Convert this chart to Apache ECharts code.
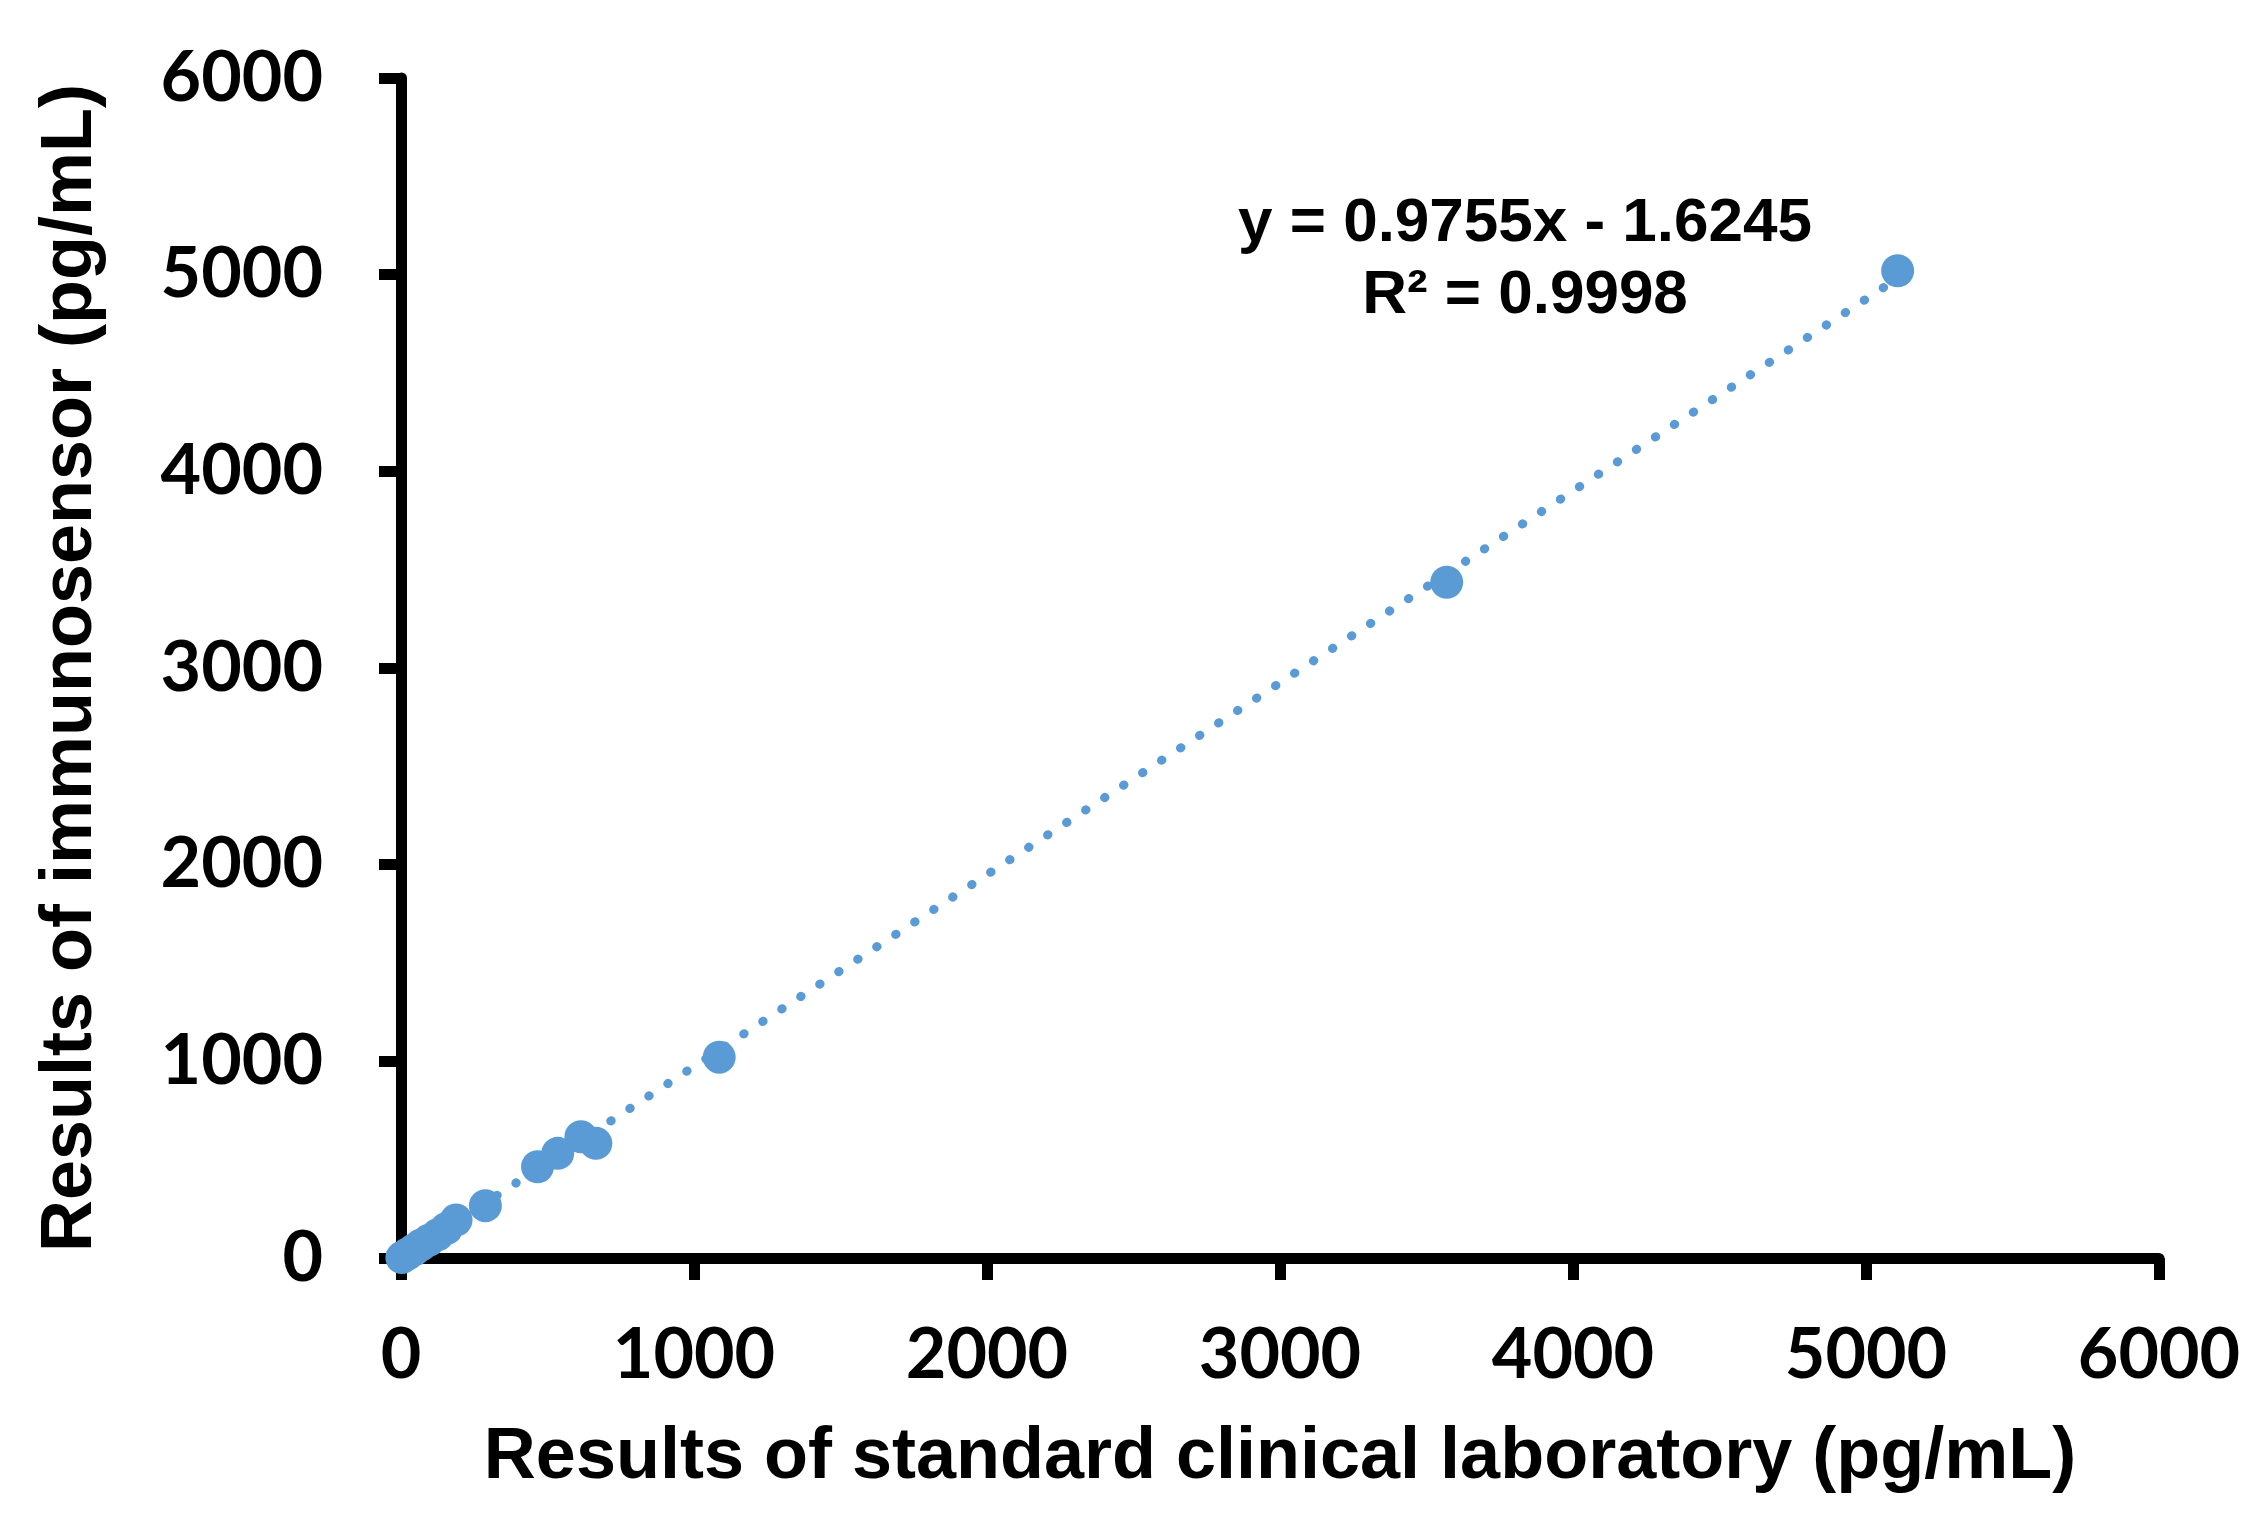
<!DOCTYPE html>
<html>
<head>
<meta charset="utf-8">
<script src="https://cdn.jsdelivr.net/npm/echarts@6/dist/echarts.min.js"></script>
<style>
  html, body { margin: 0; padding: 0; background: #ffffff; }
  #chart { width: 2250px; height: 1532px; }
</style>
</head>
<body>
<div id="chart"></div>
<script>
// ---- data ----
const standardLab = [3, 22, 45, 68, 95, 125, 155, 188, 288, 466, 535, 614, 665, 1086, 3569, 5108];
const immunosensor = [2, 20, 42, 66, 90, 118, 150, 193, 266, 464, 532, 617, 583, 1021, 3436, 5020];
const xTicks = [0, 1000, 2000, 3000, 4000, 5000, 6000];
const yTicks = [0, 1000, 2000, 3000, 4000, 5000, 6000];
const trendSlope = 0.9755;
const trendIntercept = -1.6245;
const equationLines = ['y = 0.9755x - 1.6245', 'R\u00B2 = 0.9998'];
const xTitle = 'Results of standard clinical laboratory (pg/mL)';
const yTitle = 'Results of immunosensor (pg/mL)';

// ---- build ----
const points = standardLab.map((x, i) => [x, immunosensor[i]]);
const xMin = Math.min(...standardLab);
const xMax = Math.max(...standardLab);
const trend = [
  [xMin, trendSlope * xMin + trendIntercept],
  [xMax, trendSlope * xMax + trendIntercept]
];

const blue = '#5B9BD5';
const plain = v => String(v);
const tickFont = { fontFamily: 'Lato', fontWeight: 'bold', fontSize: 70, color: '#000', formatter: plain };
const axisLine = { show: true, lineStyle: { color: '#000', width: 11 } };
const axisTick = { show: true, length: 22, lineStyle: { color: '#000', width: 11 } };

const chart = echarts.init(document.getElementById('chart'), null, { renderer: 'canvas' });
chart.setOption({
  animation: false,
  backgroundColor: '#ffffff',
  grid: { left: 401, right: 91, top: 78, bottom: 274, containLabel: false },
  xAxis: {
    type: 'value',
    min: xTicks[0], max: xTicks[xTicks.length - 1], interval: 1000,
    axisLine: axisLine,
    axisTick: axisTick,
    splitLine: { show: false },
    axisLabel: Object.assign({ margin: 62 }, tickFont),
    name: xTitle,
    nameLocation: 'middle',
    nameGap: 164,
    nameTextStyle: { fontFamily: 'Liberation Sans', fontWeight: 'bold', fontSize: 72, color: '#000' }
  },
  yAxis: {
    type: 'value',
    min: yTicks[0], max: yTicks[yTicks.length - 1], interval: 1000,
    axisLine: axisLine,
    axisTick: axisTick,
    splitLine: { show: false },
    axisLabel: Object.assign({ margin: 78 }, tickFont),
    name: yTitle,
    nameLocation: 'middle',
    nameGap: 294,
    nameTextStyle: { fontFamily: 'Liberation Sans', fontWeight: 'bold', fontSize: 72, color: '#000' }
  },
  series: [
    {
      type: 'scatter',
      data: points,
      symbol: 'circle',
      symbolSize: 33,
      itemStyle: { color: blue, opacity: 1 },
      z: 2
    },
    {
      type: 'line',
      data: trend,
      showSymbol: false,
      symbol: 'none',
      lineStyle: { color: blue, width: 9, type: [0.5, 22.2], cap: 'round', opacity: 1 },
      z: 3
    }
  ],
  graphic: [
    {
      type: 'text',
      x: 1525,
      y: 188,
      style: {
        text: equationLines.join('\n'),
        textAlign: 'center',
        textVerticalAlign: 'top',
        fontFamily: 'Liberation Sans',
        fontWeight: 'bold',
        fontSize: 62,
        lineHeight: 72,
        fill: '#000'
      }
    }
  ]
});
</script>
</body>
</html>
